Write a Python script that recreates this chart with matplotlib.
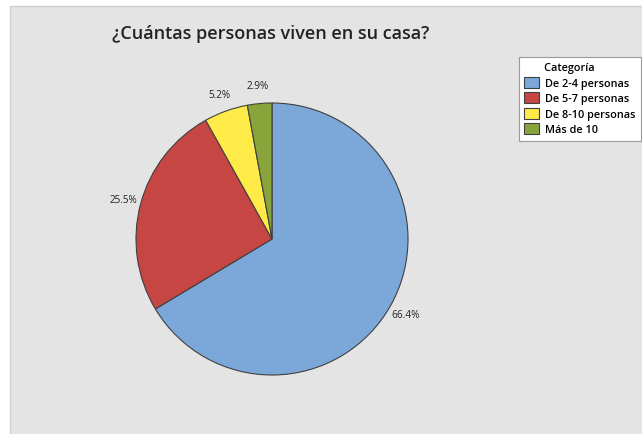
# pie chart of household size answers (Minitab style)
import matplotlib.pyplot as plt
from matplotlib.patches import Rectangle

categorias = ['De 2-4 personas', 'De 5-7 personas', 'De 8-10 personas', 'Más de 10']
porcentajes = [66.4, 25.5, 5.2, 2.9]
colores = ['#7ba7d9', '#c64644', '#ffeb47', '#88a43a']

plt.rcParams['font.family'] = ['Open Sans', 'DejaVu Sans']

fig = plt.figure(figsize=(6.42, 4.35), dpi=100)
fig.patch.set_facecolor('white')

# gray panel (screenshot is cropped on right and bottom)
fig.patches.append(Rectangle((10 / 642, -0.01), 1, 1.01 - 7 / 435, transform=fig.transFigure,
                             facecolor='#e4e4e4', edgecolor='#d0d0d0', linewidth=1, zorder=-1))

ax = fig.add_axes([136 / 642, 59 / 435, 272 / 642, 272 / 435], zorder=2)
ax.patch.set_visible(False)
wedges, texts, autotexts = ax.pie(porcentajes, colors=colores, startangle=90, counterclock=False,
                                  autopct='%.1f%%', pctdistance=1.13,
                                  wedgeprops={'edgecolor': '#404040', 'linewidth': 0.8},
                                  textprops={'fontsize': 7.2, 'color': '#222222'})
ax.set_xlim(-1, 1)
ax.set_ylim(-1, 1)
ax.set_aspect('equal')

fig.text(271 / 642, 1 - 34 / 435, '¿Cuántas personas viven en su casa?', ha='center', va='center',
         fontsize=13, fontweight='semibold', color='#222222')

leg = fig.legend(wedges, categorias, title='       Categoría', loc='upper left',
                 bbox_to_anchor=(519 / 642, 1 - 58 / 435), fontsize=7.8, title_fontsize=7.8,
                 frameon=True, fancybox=False, edgecolor='#999999', framealpha=1,
                 handlelength=1.3, handleheight=1.2, handletextpad=0.6,
                 labelspacing=0.3, borderpad=0.5, borderaxespad=0, alignment='left')
leg.set_zorder(3)
leg.get_frame().set_linewidth(0.8)
for t in leg.get_texts():
    t.set_fontweight('semibold')
leg.get_title().set_fontweight('semibold')

plt.savefig('out.png', dpi=100)
